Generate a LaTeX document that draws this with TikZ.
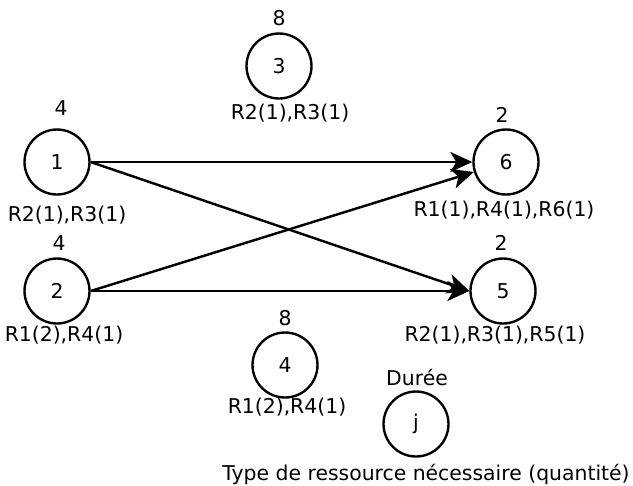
\documentclass[tikz,border=0pt]{standalone}
\usepackage{fontspec}
\setmainfont{DejaVu Sans}
\usetikzlibrary{arrows.meta}

\begin{document}
\begin{tikzpicture}[x=0.02cm,y=-0.02cm,
    font=\fontsize{11.6}{13}\selectfont,
    task/.style={draw,circle,line width=1.35pt,minimum size=1.3cm,inner sep=0pt},
    info/.style={inner sep=0pt},
    prec/.style={line width=1.4pt,-{Stealth[length=0.44cm,width=0.4cm,inset=0.12cm]}}]
    \useasboundingbox (0,0) rectangle (633,485);
    % taches
    \foreach \n/\x/\y in {1/57/162, 2/57/291, 3/279/66, 4/285/365, 5/503/291, 6/506/162} {
        \node[task] (t\n) at (\x,\y) {\n};
    }
    % durees
    \foreach \n/\d/\x/\y in {1/4/61/108, 2/4/59/243, 3/8/279/18, 4/8/285/318, 5/2/501/243, 6/2/502/115} {
        \node[info] (d\n) at (\x,\y) {\d};
    }
    % ressources
    \foreach \n/\r/\x/\y in {1/{R2(1),R3(1)}/67/215, 2/{R1(2),R4(1)}/64/335, 3/{R2(1),R3(1)}/290/113,
                             4/{R1(2),R4(1)}/287/407, 5/{R2(1),R3(1),R5(1)}/495/335, 6/{R1(1),R4(1),R6(1)}/504/210} {
        \node[info] (r\n) at (\x,\y) {\r};
    }
    % precedences
    \draw[prec] (t1.east) -- (t6.west);
    \draw[prec] (t1.east) -- (t5.west);
    \draw[prec] (t2.east) -- (t6);
    \draw[prec] (t2.east) -- (t5.west);
    % legende
    \node[task] (tj) at (416,424) {j};
    \node[info] (dj) at (417,377) {Durée};
    \node[info] (rj) at (426,474) {Type de ressource nécessaire (quantité)};
\end{tikzpicture}
\end{document}
